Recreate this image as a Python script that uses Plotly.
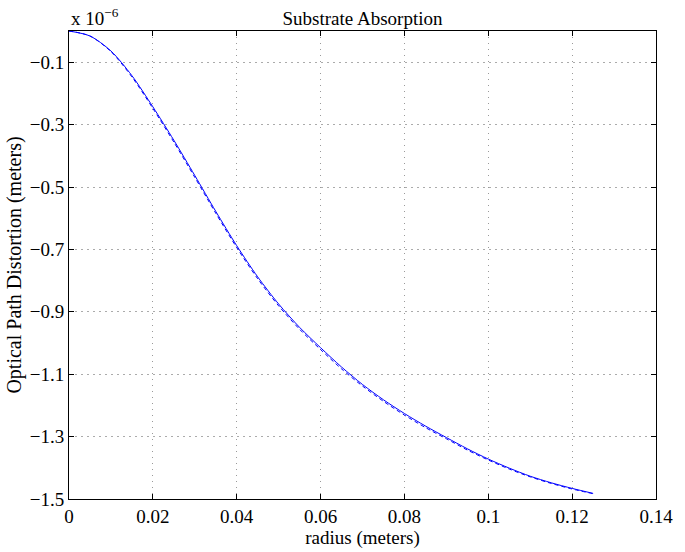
import plotly.graph_objects as go

radius = [0.0, 0.005, 0.010, 0.015, 0.020, 0.025, 0.030, 0.035, 0.040, 0.045,
          0.050, 0.055, 0.060, 0.065, 0.070, 0.075, 0.080, 0.085, 0.090, 0.095,
          0.100, 0.105, 0.110, 0.115, 0.120, 0.125]
opd_solid = [0.0, -0.016, -0.064, -0.143, -0.243, -0.350, -0.463, -0.578, -0.688, -0.788,
             -0.875, -0.950, -1.015, -1.077, -1.133, -1.182, -1.226, -1.266, -1.303, -1.339,
             -1.372, -1.401, -1.427, -1.448, -1.466, -1.482]
opd_dashed = [0.0, -0.016, -0.066, -0.147, -0.248, -0.356, -0.469, -0.584, -0.694, -0.794,
              -0.881, -0.956, -1.021, -1.083, -1.138, -1.187, -1.231, -1.271, -1.307, -1.343,
              -1.375, -1.404, -1.429, -1.450, -1.468, -1.483]

x_ticks = [0, 0.02, 0.04, 0.06, 0.08, 0.1, 0.12, 0.14]
x_ticktext = ["0", "0.02", "0.04", "0.06", "0.08", "0.1", "0.12", "0.14"]
y_ticks = [-0.1, -0.3, -0.5, -0.7, -0.9, -1.1, -1.3, -1.5]
y_ticktext = ["\u22120.1", "\u22120.3", "\u22120.5", "\u22120.7", "\u22120.9", "\u22121.1", "\u22121.3", "\u22121.5"]

FONT = "Liberation Serif"

fig = go.Figure()
fig.add_trace(go.Scatter(x=radius, y=opd_dashed, mode="lines",
                         line=dict(color="#0000ff", width=1, dash="4px,3px", shape="spline", smoothing=0.8),
                         showlegend=False))
fig.add_trace(go.Scatter(x=radius, y=opd_solid, mode="lines",
                         line=dict(color="#0000ff", width=1, shape="spline", smoothing=0.8),
                         showlegend=False))

axis_common = dict(
    showline=True, linecolor="black", linewidth=1, mirror="ticks",
    ticks="inside", ticklen=5, tickcolor="black",
    showgrid=True, gridwidth=1,
    zeroline=False,
    tickfont=dict(family=FONT, size=19, color="black"),
)

fig.update_layout(
    width=685, height=552,
    margin=dict(l=69, r=20, t=31, b=52),
    paper_bgcolor="white", plot_bgcolor="white",
    font=dict(family=FONT, size=19, color="black"),
    title=dict(text="Substrate Absorption", x=0.5, xref="paper", xanchor="center",
               y=1, yref="paper", yanchor="bottom", pad=dict(b=6),
               font=dict(family=FONT, size=19, color="black")),
    xaxis=dict(range=[0, 0.14], tickvals=x_ticks, ticktext=x_ticktext,
               gridcolor="#9a9a9a", griddash="1px,5px",
               title=dict(text="radius (meters)", standoff=0,
                          font=dict(family=FONT, size=19)),
               **axis_common),
    yaxis=dict(range=[-1.5, 0], tickvals=y_ticks, ticktext=y_ticktext,
               gridcolor="#ababab", griddash="2px,4px",
               title=dict(text="Optical Path Distortion (meters)", standoff=2,
                          font=dict(family=FONT, size=20)),
               **axis_common),
    annotations=[dict(text="x 10<sup>\u22126</sup>", xref="paper", yref="paper",
                      x=0, y=1, xanchor="left", yanchor="bottom", showarrow=False,
                      yshift=0, font=dict(family=FONT, size=19, color="black"))],
)

fig.write_html("out.html")
